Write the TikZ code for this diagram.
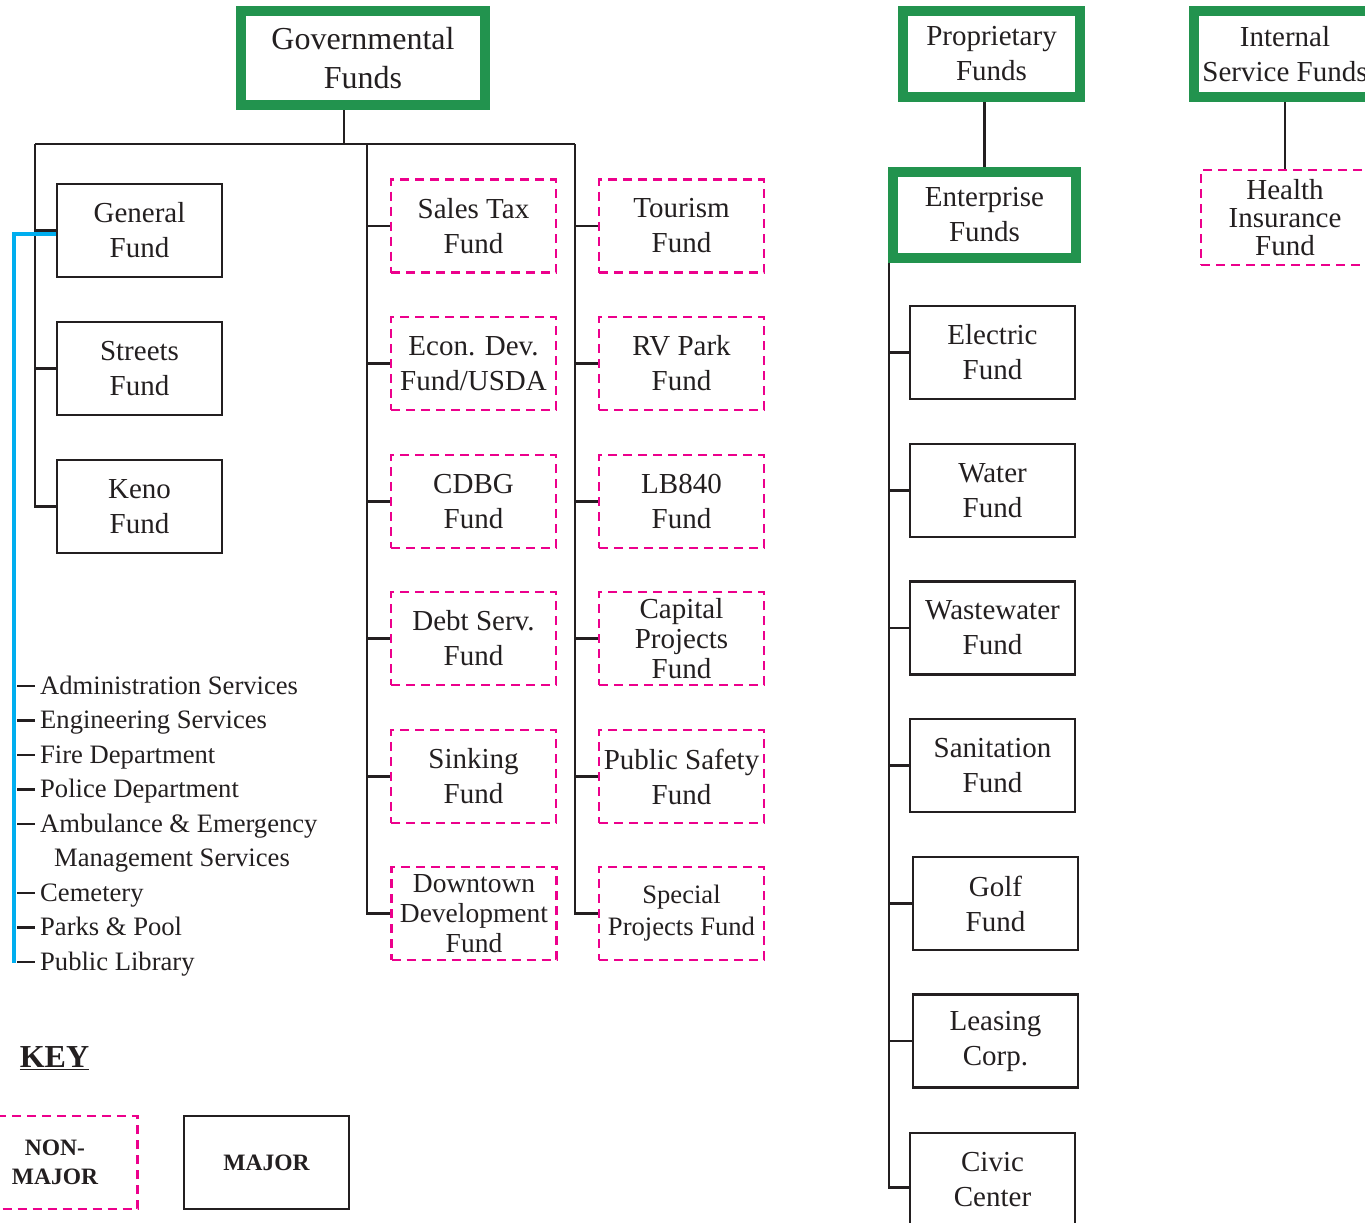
\documentclass[tikz,border=0pt]{standalone}
\usepackage{fontspec}
\setmainfont{Liberation Serif}
\definecolor{grn}{RGB}{34,147,78}
\definecolor{mag}{RGB}{236,0,140}
\definecolor{cyn}{RGB}{0,174,239}
\definecolor{ink}{RGB}{35,31,32}
\begin{document}
\begin{tikzpicture}[x=1pt,y=-1pt,
  box/.style={rectangle, inner sep=0pt, align=center, text=ink, minimum width=165pt, minimum height=93pt, font=\fontsize{29}{35}\selectfont},
  majorbox/.style={box, draw=ink, line width=2.2pt},
  minorbox/.style={box, draw=mag, line width=2.6pt, dash pattern=on 9pt off 6pt},
  headbox/.style={box, draw=grn, line width=10pt, minimum height=86pt},
  conn/.style={draw=ink, line width=2.6pt, line join=miter},
  item/.style={anchor=base west, inner sep=0pt, text=ink, font=\fontsize{26.6}{32}\selectfont},
  keytext/.style={font=\bfseries\fontsize{23.5}{29}\selectfont}
]
\useasboundingbox (0,0) rectangle (1365,1223);
\clip (0,0) rectangle (1365,1223);

% ---------- Governmental ----------
\node[headbox, minimum width=244pt, minimum height=94pt, font=\fontsize{32}{39}\selectfont] (gov) at (363,58) {Governmental\\Funds};

\node[majorbox] (general) at (139.5,230.5) {General\\Fund};
\node[majorbox] (streets) at (139.5,368.5) {Streets\\Fund};
\node[majorbox] (keno) at (139.5,506.5) {Keno\\Fund};

\node[minorbox] (sales) at (473.5,226) {Sales Tax\\Fund};
\node[minorbox] (econ) at (473.5,363.5) {Econ. Dev.\\Fund/USDA};
\node[minorbox] (cdbg) at (473.5,501.5) {CDBG\\Fund};
\node[minorbox] (debt) at (473.5,638.5) {Debt Serv.\\Fund};
\node[minorbox] (sinking) at (473.5,776.5) {Sinking\\Fund};
\node[minorbox, font=\fontsize{27.5}{30}\selectfont] (downtown) at (474,913.5) {Downtown\\Development\\Fund};

\node[minorbox] (tourism) at (681.5,226) {Tourism\\Fund};
\node[minorbox] (rv) at (681.5,363.5) {RV Park\\Fund};
\node[minorbox] (lb) at (681.5,501.5) {LB840\\Fund};
\node[minorbox, font=\fontsize{29}{30}\selectfont] (capital) at (681.5,638.5) {Capital\\Projects\\Fund};
\node[minorbox] (safety) at (681.5,776.5) {Public Safety\\Fund};
\node[minorbox, font=\fontsize{26.6}{32}\selectfont] (special) at (681.5,913.5) {Special\\Projects Fund};

\coordinate (b1) at (35,144);
\coordinate (b2) at (367,144);
\coordinate (b3) at (575,144);
\coordinate (gdrop) at (344,144);

\draw[conn] (gov.south -| gdrop) -- (gdrop);
\draw[conn] (b1) -- (b3);
\draw[conn] (b1) |- (keno.west);
\draw[conn] (general.west -| b1) -- (general.west);
\draw[conn] (streets.west -| b1) -- (streets.west);
\draw[conn] (b2) |- (downtown.west);
\foreach \n in {sales,econ,cdbg,debt,sinking} \draw[conn] (\n.west -| b2) -- (\n.west);
\draw[conn] (b3) |- (special.west);
\foreach \n in {tourism,rv,lb,capital,safety} \draw[conn] (\n.west -| b3) -- (\n.west);

% ---------- General fund departments ----------
\node[item] (d1) at (40,694) {Administration Services};
\node[item] (d2) at (40,728.5) {Engineering Services};
\node[item] (d3) at (40,763) {Fire Department};
\node[item] (d4) at (40,797.5) {Police Department};
\node[item] (d5) at (40,832) {Ambulance \& Emergency};
\node[item] (d5b) at (54,866.5) {Management Services};
\node[item] (d6) at (40,901) {Cemetery};
\node[item] (d7) at (40,935.5) {Parks \& Pool};
\node[item] (d8) at (40,970) {Public Library};

\coordinate (cy) at (14,963);
\draw[cyn, line width=4pt, line join=miter] ([yshift=-3pt]general.west) -- ([yshift=-3pt]general.west -| cy) -- (cy);
\foreach \n in {d1,d2,d3,d4,d5,d6,d7,d8}
  \draw[conn] ([xshift=-23pt,yshift=8pt]\n.base west) -- ([xshift=-5pt,yshift=8pt]\n.base west);

% ---------- Proprietary ----------
\node[headbox, minimum width=177pt] (prop) at (991.5,54) {Proprietary\\Funds};
\node[headbox, minimum width=183pt] (ent) at (984.5,215) {Enterprise\\Funds};
\draw[conn] (prop.south -| ent.north) -- (ent.north);

\node[majorbox] (electric) at (992.5,352.5) {Electric\\Fund};
\node[majorbox] (water) at (992.5,490.5) {Water\\Fund};
\node[majorbox] (waste) at (992.5,628) {Wastewater\\Fund};
\node[majorbox] (sanit) at (992.5,765.5) {Sanitation\\Fund};
\node[majorbox] (golf) at (995.5,903.5) {Golf\\Fund};
\node[majorbox] (leasing) at (995.5,1041) {Leasing\\Corp.};
\node[majorbox, anchor=north] (civic) at (992.5,1132) {Civic\\Center};

\coordinate (ev) at (889,263);
\draw[conn] (ev) |- ([yshift=-8pt]civic.west);
\foreach \n in {electric,water,waste,sanit,golf,leasing} \draw[conn] (\n.west -| ev) -- (\n.west);

% ---------- Internal Service ----------
\node[headbox, minimum width=182pt] (internal) at (1285,54) {Internal\\Service Funds};
\node[minorbox, minimum width=168pt, minimum height=95pt, font=\fontsize{29}{28}\selectfont] (health) at (1285,217.5) {Health\\Insurance\\Fund};
\draw[conn] (health.north) -- (health.north |- internal.south);

% ---------- Key ----------
\node[text=ink, inner sep=0pt, font=\bfseries\fontsize{32}{36}\selectfont] (key) at (54.5,1058) {\underline{KEY}};
\node[minorbox, keytext] (nonmajor) at (55,1162.5) {NON-\\MAJOR};
\node[majorbox, keytext] (major) at (266.5,1162.5) {MAJOR};
\end{tikzpicture}
\end{document}
